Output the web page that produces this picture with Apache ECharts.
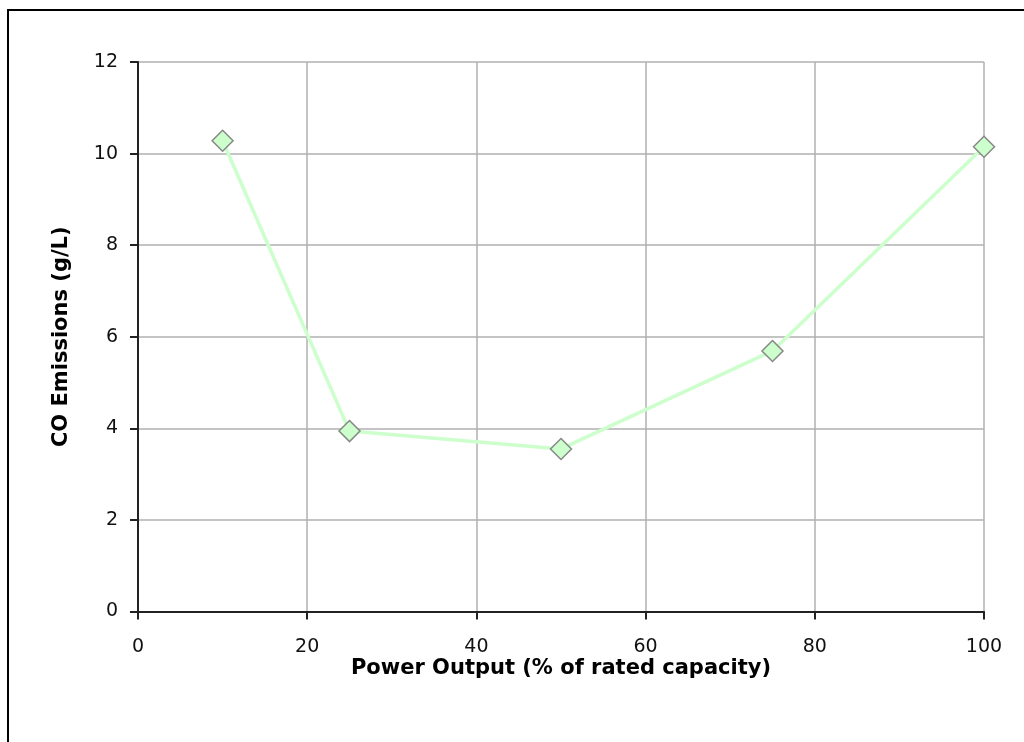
<!DOCTYPE html>
<html>
<head>
<meta charset="utf-8">
<script src="https://cdn.jsdelivr.net/npm/echarts@6/dist/echarts.min.js"></script>
<style>
html,body{margin:0;padding:0;background:#fff;}
#chart{width:1024px;height:742px;}
</style>
</head>
<body>
<div id="chart"></div>
<script>
const powerOutput = [10, 25, 50, 75, 100];
const coEmissions = [10.28, 3.94, 3.55, 5.69, 10.15];
const xTitle = 'Power Output (% of rated capacity)';
const yTitle = 'CO Emissions (g/L)';

const chart = echarts.init(document.getElementById('chart'), null, {renderer: 'canvas'});
const labelFont = {color: '#111', fontFamily: 'DejaVu Sans, sans-serif', fontSize: 19};
const nameFont = {color: '#000', fontFamily: 'DejaVu Sans, sans-serif', fontSize: 21, fontWeight: 'bold'};
chart.setOption({
  animation: false,
  backgroundColor: '#fff',
  graphic: [{
    type: 'rect',
    shape: {x: 8, y: 10, width: 1100, height: 800},
    style: {fill: 'none', stroke: '#000', lineWidth: 2},
    silent: true
  }],
  grid: {left: 138, right: 40, top: 62, bottom: 130.5},
  xAxis: {
    type: 'value', min: 0, max: 100, interval: 20,
    name: xTitle, nameLocation: 'middle', nameGap: 47, nameMoveOverlap: false,
    nameTextStyle: nameFont,
    axisLine: {show: true, onZero: false, lineStyle: {color: '#222', width: 2}},
    axisTick: {show: true, length: 8, lineStyle: {color: '#222', width: 2}},
    axisLabel: Object.assign({margin: 26}, labelFont),
    splitLine: {show: true, lineStyle: {color: '#b0b0b0', width: 1.5}}
  },
  yAxis: {
    type: 'value', min: 0, max: 12, interval: 2,
    name: yTitle, nameLocation: 'middle', nameGap: 66,
    nameTextStyle: nameFont,
    axisLine: {show: true, lineStyle: {color: '#222', width: 2}},
    axisTick: {show: true, length: 8, lineStyle: {color: '#222', width: 2}},
    axisLabel: Object.assign({margin: 20}, labelFont),
    splitLine: {show: true, lineStyle: {color: '#b0b0b0', width: 1.5}}
  },
  series: [{
    type: 'line',
    data: powerOutput.map((x, i) => [x, coEmissions[i]]),
    symbol: 'diamond',
    symbolSize: 21,
    lineStyle: {color: '#ccffcc', width: 3.5},
    itemStyle: {color: '#ccffcc', borderColor: '#888', borderWidth: 1.5},
    emphasis: {disabled: true}
  }]
});
</script>
</body>
</html>
